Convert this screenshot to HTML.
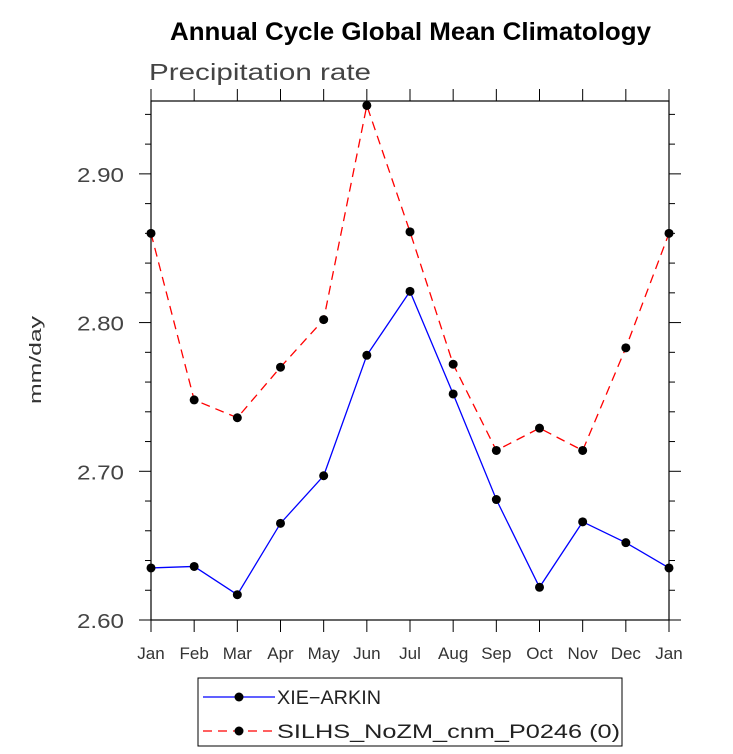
<!DOCTYPE html>
<html><head><meta charset="utf-8"><style>
html,body{margin:0;padding:0;background:#fff;}
svg{display:block;font-family:"Liberation Sans",sans-serif;}
</style></head><body>
<svg id="chart" width="733" height="754" viewBox="0 0 733 754">
<text x="170" y="40" textLength="481" lengthAdjust="spacingAndGlyphs" font-size="25" font-weight="bold">Annual Cycle Global Mean Climatology</text>
<text x="149" y="80" textLength="222" lengthAdjust="spacingAndGlyphs" font-size="23" fill="#444">Precipitation rate</text>
<text transform="translate(41,360) rotate(-90)" text-anchor="middle" textLength="88" lengthAdjust="spacingAndGlyphs" font-size="17" fill="#333">mm/day</text>
<rect x="151" y="101" width="518" height="519" fill="none" stroke="#000" stroke-width="1.2"/>
<g id="axes"></g>
<g id="series"></g>
<g>
<rect x="198" y="678" width="424" height="68" fill="#fff" stroke="#000"/>
<g>
<line x1="203" y1="697" x2="275" y2="697" stroke="#0000ff" stroke-width="1.3"/>
<circle cx="239" cy="697" r="4.5" fill="#000"/>
<text x="277" y="704" textLength="104" lengthAdjust="spacingAndGlyphs" font-size="19" fill="#222">XIE−ARKIN</text></g>
<g>
<line x1="203" y1="731" x2="275" y2="731" stroke="#ff0000" stroke-width="1.3" stroke-dasharray="9,6"/>
<circle cx="239" cy="731" r="4.5" fill="#000"/>
<text x="277" y="738" textLength="343" lengthAdjust="spacingAndGlyphs" font-size="19" fill="#222">SILHS_NoZM_cnm_P0246 (0)</text></g>
</g>
</svg>
<script>
const months = ["Jan","Feb","Mar","Apr","May","Jun","Jul","Aug","Sep","Oct","Nov","Dec","Jan"];
const xieArkin = [2.635,2.636,2.617,2.665,2.697,2.778,2.821,2.752,2.681,2.622,2.666,2.652,2.635];
const silhs = [2.860,2.748,2.736,2.770,2.802,2.946,2.861,2.772,2.714,2.729,2.714,2.783,2.860];
const yTicks = [2.60,2.70,2.80,2.90];
const yTickLabels = ["2.60","2.70","2.80","2.90"];

const NS="http://www.w3.org/2000/svg";
const X0=151,X1=669,Y0=620,Y1=101,YMIN=2.60,YMAX=2.949;
function xs(i){return X0+(X1-X0)*i/(months.length-1);}
function ys(v){return Y0-(v-YMIN)/(YMAX-YMIN)*(Y0-Y1);}
function mk(tag,attrs,parent){const e=document.createElementNS(NS,tag);for(const k in attrs)e.setAttribute(k,attrs[k]);parent.appendChild(e);return e;}
const axes=document.getElementById('axes');
months.forEach((m,i)=>{
  const x=xs(i);
  const t=mk('line',{x1:x,y1:Y0,x2:x,y2:Y0+12,stroke:'#000'},axes);
  
  
  mk('line',{x1:x,y1:Y1,x2:x,y2:Y1-12,stroke:'#000'},axes);
  const l=mk('text',{x:x,y:Y0+39,'text-anchor':'middle','font-size':'17',fill:'#333'},axes);
  l.textContent=m;
  
  
});
for(let k=0;k<=17;k++){
  const v=YMIN+k*0.02;const y=ys(v);if(y<Y1-0.5)break;
  const major=(k%5===0);const len=major?12:6;
  mk('line',{x1:X0-len,y1:y,x2:X0,y2:y,stroke:'#000'},axes);
  mk('line',{x1:X1,y1:y,x2:X1+len,y2:y,stroke:'#000'},axes);
}
yTicks.forEach((v,i)=>{
  const l=mk('text',{x:X0-27,y:ys(v)+8,'text-anchor':'end','font-size':'20',fill:'#444',textLength:'47',lengthAdjust:'spacingAndGlyphs'},axes);
  l.textContent=yTickLabels[i];
  
  
});
const series=document.getElementById('series');
function draw(vals,color,dash,name){
  const g=mk('g',{},series);
  
  
  const pts=vals.map((v,i)=>xs(i)+','+ys(v)).join(' ');
  const p=mk('polyline',{points:pts,fill:'none',stroke:color,'stroke-width':'1.3'},g);
  if(dash)p.setAttribute('stroke-dasharray',dash);
  vals.forEach((v,i)=>{
    const c=mk('circle',{cx:xs(i),cy:ys(v),r:4.5,fill:'#000'},g);
    
    
  });
}
draw(silhs,'#ff0000','9,6','series-silhs');
draw(xieArkin,'#0000ff',null,'series-xie-arkin');
</script>
</body></html>
